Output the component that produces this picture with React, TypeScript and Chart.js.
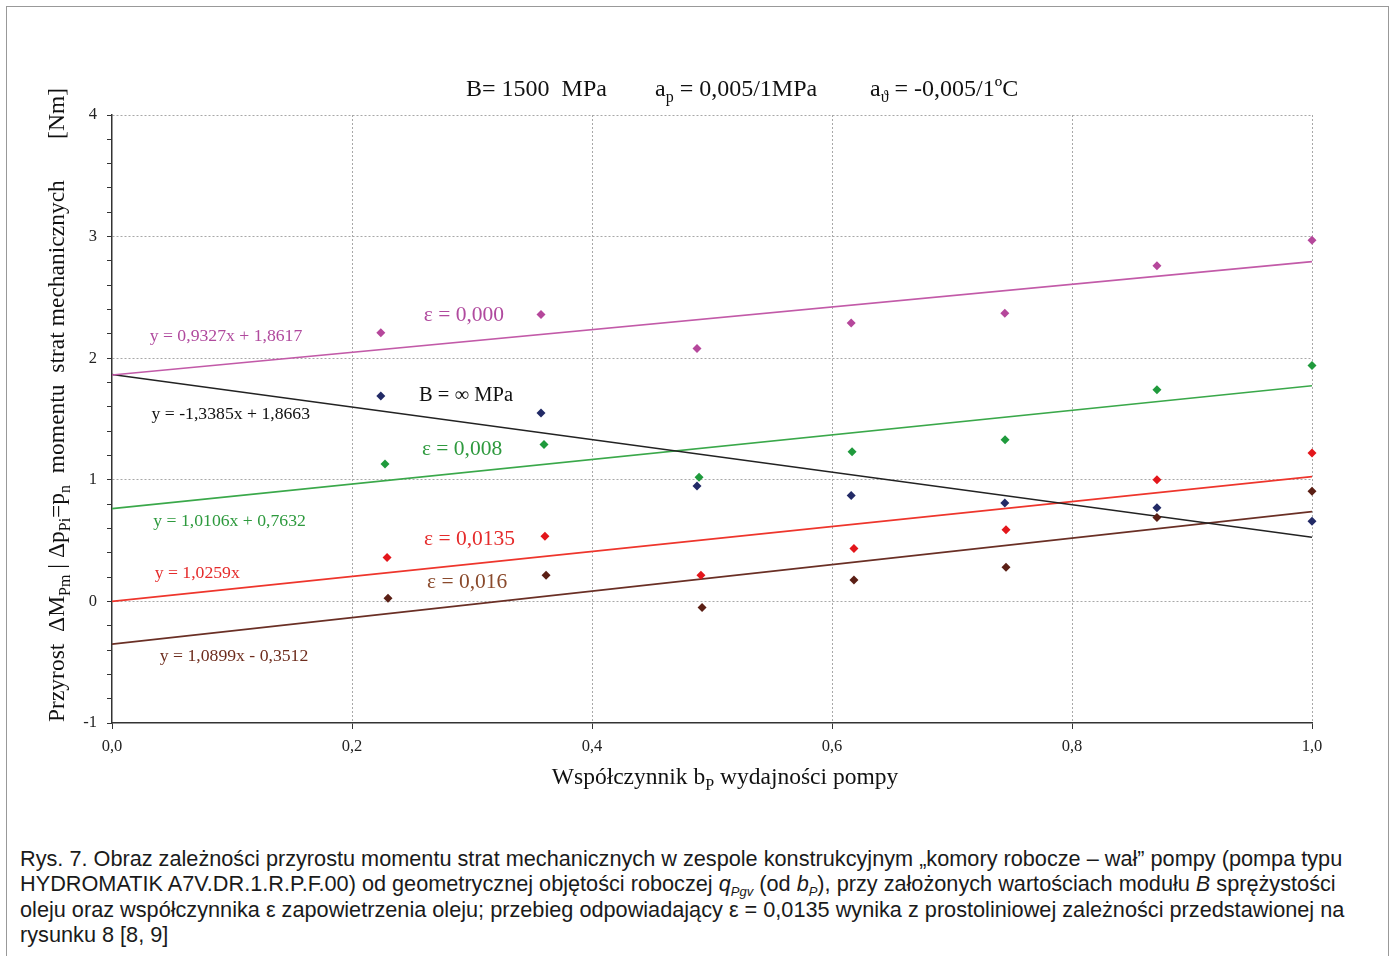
import React, { useEffect, useRef } from "react";
import { Chart, registerables } from "chart.js";
Chart.register(...registerables);

// ---- data ----
const xTicks = [0, 0.2, 0.4, 0.6, 0.8, 1.0];
const bP_main = [0.224, 0.3575, 0.4875, 0.616, 0.744, 0.8708, 1.0];
const bP_green = [0.2275, 0.36, 0.4892, 0.6167, 0.7442, 0.8708, 1.0];
const bP_red = [0.2292, 0.3608, 0.4908, 0.6183, 0.745, 0.8708, 1.0];
const bP_brown = [0.23, 0.3617, 0.4917, 0.6183, 0.745, 0.8708, 1.0];

const eps000 = [2.21, 2.36, 2.08, 2.29, 2.37, 2.76, 2.97];
const Binf = [1.69, 1.55, 0.95, 0.87, 0.81, 0.77, 0.66];
const eps008 = [1.13, 1.29, 1.02, 1.23, 1.33, 1.74, 1.94];
const eps0135 = [0.36, 0.535, 0.215, 0.435, 0.59, 1.0, 1.22];
const eps016 = [0.025, 0.215, -0.05, 0.175, 0.28, 0.69, 0.905];

// trend-line end points at b = 0 and b = 1 (from the printed equations)
const trendX = [0, 1];
const trend000 = [1.8617, 2.7944];
const trendBinf = [1.8663, 0.5278];
const trend008 = [0.7632, 1.7738];
const trend0135 = [0, 1.0259];
const trend016 = [-0.3512, 0.7387];

const labelsText = [
  "ε = 0,000",
  "y = 0,9327x + 1,8617",
  "B = ∞ MPa",
  "y = -1,3385x + 1,8663",
  "ε = 0,008",
  "y = 1,0106x + 0,7632",
  "ε = 0,0135",
  "y = 1,0259x",
  "ε = 0,016",
  "y = 1,0899x - 0,3512",
];
const labelX = [0.2933, 0.095, 0.295, 0.099, 0.2917, 0.098, 0.298, 0.071, 0.296, 0.1017];
const labelY = [2.352, 2.179, 1.694, 1.538, 1.25, 0.658, 0.51, 0.23, 0.156, -0.452];

// ---- styles ----
const C_MAG = "#b5479b";
const C_NAVY = "#222a66";
const C_GREEN = "#1f9a3c";
const C_RED = "#e3161b";
const C_BROWN = "#5b1f15";
const labelColors = ["#b04a9e", "#b04a9e", "#111111", "#111111", "#2e9a3e", "#2e9a3e", "#e52b2b", "#e52b2b", "#8a4a2c", "#6e2d1e"];
const labelSizes = [21.5, 17.7, 20.5, 17.7, 21.5, 17.7, 21.5, 17.7, 21.5, 17.7];
const SERIF = "'Liberation Serif', 'Times New Roman', serif";

type Seg = [string, boolean];
function drawRich(ctx: CanvasRenderingContext2D, segs: Seg[], x: number, y: number, align: string, size: number) {
  const font = `${size}px ${SERIF}`;
  const sub = `${Math.round(size * 0.68)}px ${SERIF}`;
  let w = 0;
  for (const [t, s] of segs) {
    ctx.font = s ? sub : font;
    w += ctx.measureText(t).width;
  }
  let cx = align === "center" ? x - w / 2 : align === "right" ? x - w : x;
  ctx.textAlign = "left";
  ctx.textBaseline = "alphabetic";
  for (const [t, s] of segs) {
    ctx.font = s ? sub : font;
    ctx.fillText(t, cx, s ? y + size * 0.25 : y);
    cx += ctx.measureText(t).width;
  }
}

const textPlugin = {
  id: "texts",
  afterDraw(chart: any) {
    const ctx: CanvasRenderingContext2D = chart.ctx;
    const xs = chart.scales.x;
    const ys = chart.scales.y;
    ctx.save();
    ctx.fillStyle = "#111";
    // title
    drawRich(ctx, [["B= 1500  MPa", false]], 466, 96, "left", 24);
    drawRich(ctx, [["a", false], ["p", true], [" = 0,005/1MPa", false]], 655, 96, "left", 24);
    drawRich(ctx, [["a", false], ["ϑ", true], [" = -0,005/1ºC", false]], 870, 96, "left", 24);
    // x title
    drawRich(ctx, [["Współczynnik b", false], ["P", true], [" wydajności pompy", false]], 725, 784, "center", 23.5);
    // y title
    ctx.save();
    ctx.translate(64, 0);
    ctx.rotate(-Math.PI / 2);
    drawRich(
      ctx,
      [["Przyrost  ΔM", false], ["Pm", true], [" | Δp", false], ["Pi", true], ["=p", false], ["n", true], ["  momentu  strat mechanicznych", false]],
      -722, 0, "left", 23.5
    );
    drawRich(ctx, [["[Nm]", false]], -88, 0, "right", 23.5);
    ctx.restore();
    // annotations
    for (let i = 0; i < labelsText.length; i++) {
      ctx.fillStyle = labelColors[i];
      ctx.font = `${labelSizes[i]}px ${SERIF}`;
      ctx.textAlign = "center";
      ctx.textBaseline = "middle";
      ctx.fillText(labelsText[i], xs.getPixelForValue(labelX[i]), ys.getPixelForValue(labelY[i]));
    }
    ctx.restore();
  },
};

function pts(xs: number[], ys: number[]) {
  return xs.map((x, i) => ({ x, y: ys[i] }));
}

function lineDs(ys: number[], color: string) {
  return {
    type: "line" as const,
    data: pts(trendX, ys),
    borderColor: color,
    borderWidth: 1.6,
    pointRadius: 0,
    showLine: true,
    fill: false,
    order: 2,
  };
}
function pointDs(xs: number[], ys: number[], color: string) {
  return {
    type: "scatter" as const,
    data: pts(xs, ys),
    pointStyle: "rectRot",
    pointRadius: 4.5,
    backgroundColor: color,
    borderColor: color,
    borderWidth: 0,
    showLine: false,
    clip: false as any,
    order: 1,
  };
}

const isInt = (v: number) => Math.abs(v - Math.round(v)) < 1e-6;

export default function App() {
  const ref = useRef<HTMLCanvasElement | null>(null);
  useEffect(() => {
    if (!ref.current) return;
    const chart = new Chart(ref.current, {
      type: "scatter",
      data: {
        datasets: [
          lineDs(trend000, "#c25aa8"),
          lineDs(trendBinf, "#222222"),
          lineDs(trend008, "#3aa84a"),
          lineDs(trend0135, "#ee352c"),
          lineDs(trend016, "#6a2f25"),
          pointDs(bP_main, eps000, C_MAG),
          pointDs(bP_main, Binf, C_NAVY),
          pointDs(bP_green, eps008, C_GREEN),
          pointDs(bP_red, eps0135, C_RED),
          pointDs(bP_brown, eps016, C_BROWN),
        ] as any,
      },
      options: {
        animation: false,
        responsive: false,
        maintainAspectRatio: false,
        layout: { padding: { left: 0, right: 80, top: 115, bottom: 0 } },
        plugins: { legend: { display: false }, tooltip: { enabled: false }, title: { display: false } },
        scales: {
          x: {
            type: "linear",
            min: 0,
            max: 1,
            afterBuildTicks: (s: any) => {
              s.ticks = xTicks.map((v) => ({ value: v }));
            },
            ticks: {
              autoSkip: false,
              maxRotation: 0,
              padding: 8,
              color: "#222",
              font: { family: "Liberation Serif", size: 16.5 },
              callback: (v: any) => Number(v).toFixed(1).replace(".", ","),
            },
            grid: {
              color: (c: any) => (c.tick && c.tick.value === 0 ? "rgba(0,0,0,0)" : "#a8a8a8"),
              lineWidth: 1,
              tickLength: 6,
              tickColor: "#333",
              borderDash: [2, 2],
            } as any,
            border: { color: "#333", width: 1.5, dash: [2, 2] } as any,
            afterFit: (s: any) => {
              s.height = 107;
            },
          },
          y: {
            type: "linear",
            min: -1,
            max: 4,
            ticks: {
              stepSize: 0.2,
              autoSkip: false,
              padding: 10,
              color: "#222",
              font: { family: "Liberation Serif", size: 16.5 },
              callback: (v: any) => (isInt(Number(v)) ? String(Math.round(Number(v))) : ""),
            },
            grid: {
              color: (c: any) =>
                c.tick && isInt(c.tick.value) && Math.round(c.tick.value) !== -1 ? "#a8a8a8" : "rgba(0,0,0,0)",
              lineWidth: 1,
              tickLength: 5,
              tickColor: "#333",
              borderDash: [2, 2],
            } as any,
            border: { color: "#333", width: 1.5, dash: [2, 2] } as any,
            afterFit: (s: any) => {
              s.width = 112;
            },
          },
        },
      } as any,
      plugins: [textPlugin],
    });
    return () => chart.destroy();
  }, []);

  return (
    <div>
      <div
        style={{
          position: "absolute",
          left: 6,
          top: 6,
          width: 1383,
          height: 950,
          borderTop: "1px solid #999",
          borderLeft: "1px solid #999",
          borderRight: "1px solid #999",
          boxSizing: "border-box",
          background: "#fff",
        }}
      />
      <canvas
        ref={ref}
        width={1392}
        height={830}
        style={{ position: "absolute", left: 0, top: 0, width: 1392, height: 830 }}
      />
      <div
        style={{
          position: "absolute",
          left: 20,
          top: 846,
          fontFamily: "'Liberation Sans', Arial, sans-serif",
          fontSize: 21.7,
          lineHeight: "25.3px",
          color: "#1a1a1a",
          whiteSpace: "nowrap",
        }}
      >
        Rys. 7. Obraz zależności przyrostu momentu strat mechanicznych w zespole konstrukcyjnym „komory robocze – wał” pompy (pompa typu
        <br />
        HYDROMATIK A7V.DR.1.R.P.F.00) od geometrycznej objętości roboczej{" "}
        <i>
          q<sub style={{ fontSize: 13, lineHeight: 0 }}>Pgv</sub>
        </i>{" "}
        (od{" "}
        <i>
          b<sub style={{ fontSize: 13, lineHeight: 0 }}>P</sub>
        </i>
        ), przy założonych wartościach modułu <i>B</i> sprężystości
        <br />
        oleju oraz współczynnika ε zapowietrzenia oleju; przebieg odpowiadający ε = 0,0135 wynika z prostoliniowej zależności przedstawionej na
        <br />
        rysunku 8 [8, 9]
      </div>
    </div>
  );
}
